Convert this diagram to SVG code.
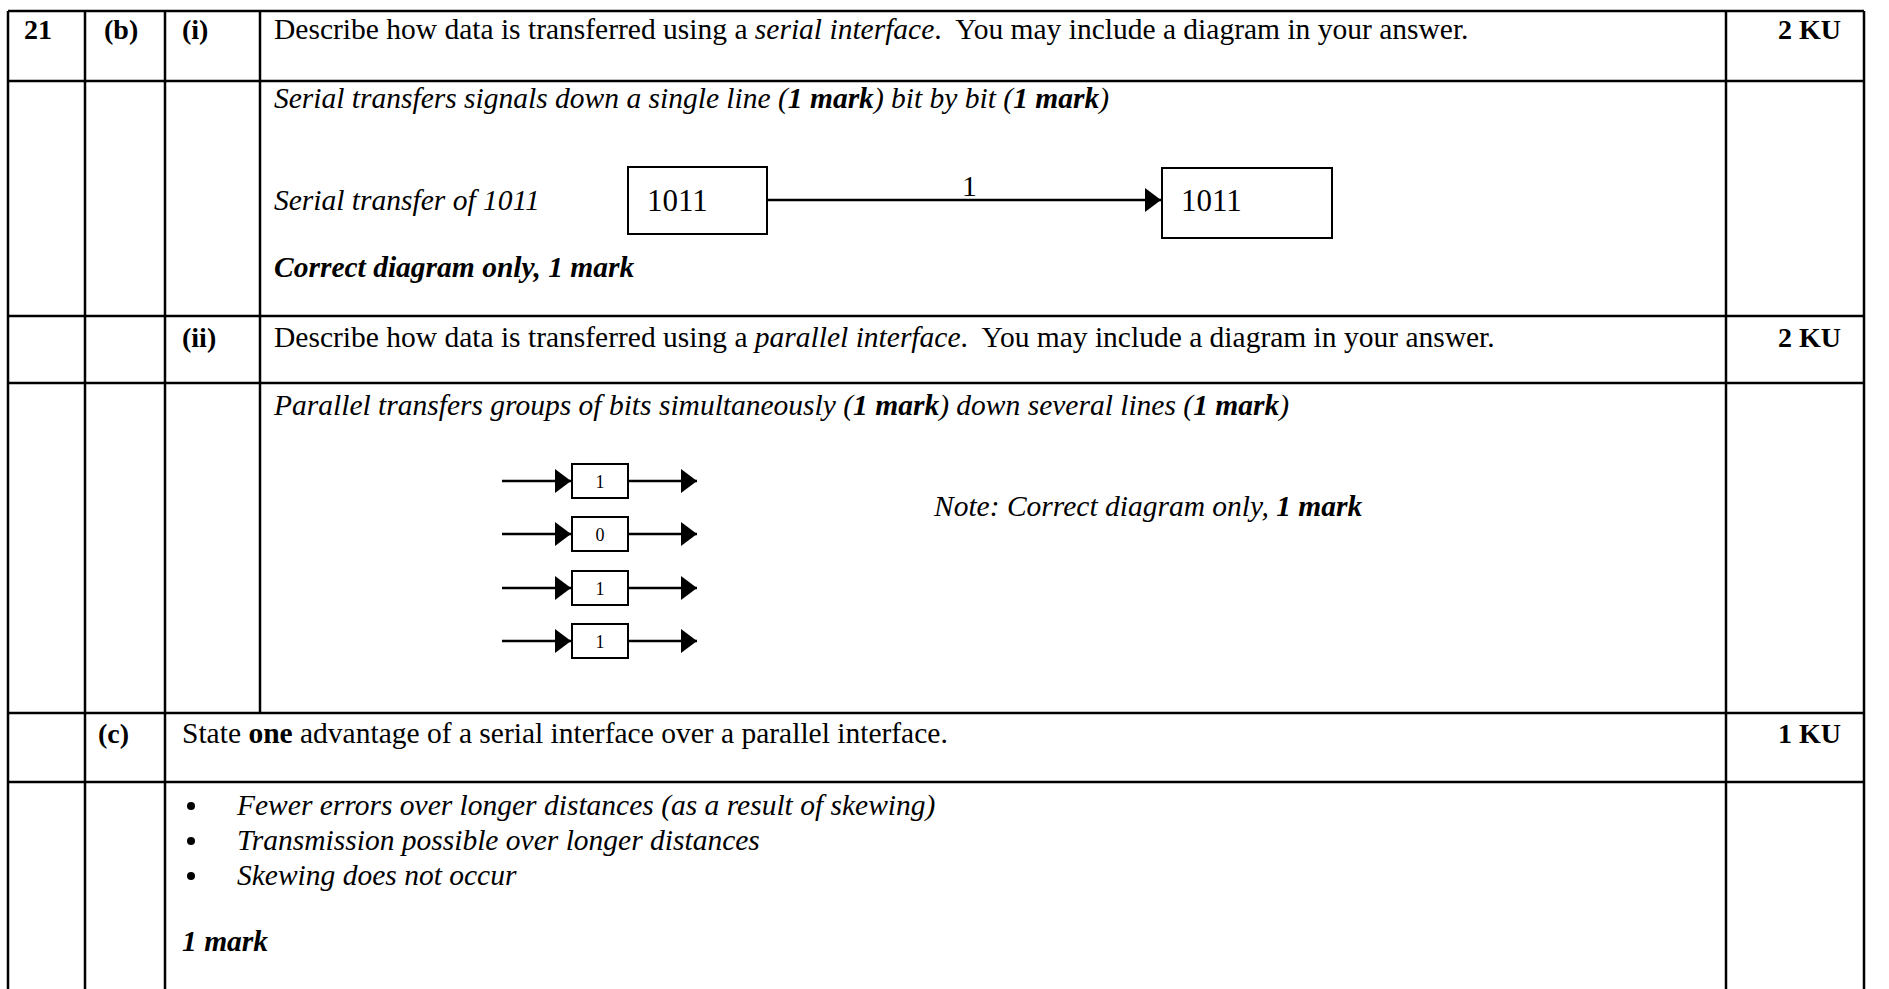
<svg xmlns="http://www.w3.org/2000/svg" width="1889" height="989" viewBox="0 0 1889 989">
  <style>
    text { font-family: "Liberation Serif", "Times New Roman", serif; fill: #000; }
    .t { font-size: 29.5px; }
    .lab { font-size: 28px; font-weight: bold; }
    .b { font-weight: bold; }
    .i { font-style: italic; }
    .grid line { stroke: #000; stroke-width: 2.5; }
    .box { fill: #fff; stroke: #000; stroke-width: 2; }
    .wire { stroke: #000; stroke-width: 2.5; fill: none; }
    .dig { font-size: 18px; text-anchor: middle; }
    .val { font-size: 31px; }
  </style>
  <defs>
    <marker id="head" viewBox="0 0 16 24" refX="16" refY="12" markerWidth="16" markerHeight="24" markerUnits="userSpaceOnUse" orient="auto">
      <path d="M0,0 L16,12 L0,24 Z" fill="#000"/>
    </marker>
  </defs>
  <rect x="0" y="0" width="1889" height="989" fill="#fff"/>

  <!-- table rules -->
  <g class="grid" id="grid">
    <line x1="8" y1="11" x2="1864" y2="11"/>
    <line x1="8" y1="81" x2="1864" y2="81"/>
    <line x1="8" y1="316" x2="1864" y2="316"/>
    <line x1="8" y1="383" x2="1864" y2="383"/>
    <line x1="8" y1="713" x2="1864" y2="713"/>
    <line x1="8" y1="782" x2="1864" y2="782"/>
    <line x1="8" y1="11" x2="8" y2="989"/>
    <line x1="85" y1="11" x2="85" y2="989"/>
    <line x1="165" y1="11" x2="165" y2="989"/>
    <line x1="260" y1="11" x2="260" y2="713"/>
    <line x1="1726" y1="11" x2="1726" y2="989"/>
    <line x1="1864" y1="11" x2="1864" y2="989"/>
  </g>

  <!-- row labels -->
  <g id="labels" class="lab">
    <text x="24" y="39">21</text>
    <text x="104" y="39">(b)</text>
    <text x="182" y="39">(i)</text>
    <text x="182" y="347">(ii)</text>
    <text x="98" y="743">(c)</text>
    <text x="1778" y="39">2 KU</text>
    <text x="1778" y="347">2 KU</text>
    <text x="1778" y="743">1 KU</text>
  </g>

  <!-- part (b)(i) -->
  <g id="q-serial">
    <text class="t" x="274" y="39" xml:space="preserve">Describe how data is transferred using a <tspan class="i">serial interface</tspan>.  You may include a diagram in your answer.</text>
  </g>
  <g id="a-serial" class="t i">
    <text x="274" y="108">Serial transfers signals down a single line (<tspan class="b">1 mark</tspan>) bit by bit (<tspan class="b">1 mark</tspan>)</text>
    <text x="274" y="210">Serial transfer of 1011</text>
    <text class="b" x="274" y="277">Correct diagram only, 1 mark</text>
  </g>
  <g id="sender">
    <rect class="box" x="628" y="167" width="139" height="67"/>
    <text class="val" x="647" y="211">1011</text>
  </g>
  <g id="receiver">
    <rect class="box" x="1162" y="168" width="170" height="70"/>
    <text class="val" x="1181" y="211">1011</text>
  </g>

  <!-- part (b)(ii) -->
  <g id="q-parallel">
    <text class="t" x="274" y="347" xml:space="preserve">Describe how data is transferred using a <tspan class="i">parallel interface</tspan>.  You may include a diagram in your answer.</text>
  </g>
  <g id="a-parallel" class="t i">
    <text x="274" y="415">Parallel transfers groups of bits simultaneously (<tspan class="b">1 mark</tspan>) down several lines (<tspan class="b">1 mark</tspan>)</text>
    <text x="934" y="516">Note: Correct diagram only, <tspan class="b">1 mark</tspan></text>
  </g>
  <g id="bit0">
    <rect class="box" x="572" y="464" width="56" height="34"/>
    <text class="dig" x="600" y="488">1</text>
  </g>
  <g id="bit1">
    <rect class="box" x="572" y="517" width="56" height="34"/>
    <text class="dig" x="600" y="541">0</text>
  </g>
  <g id="bit2">
    <rect class="box" x="572" y="571" width="56" height="34"/>
    <text class="dig" x="600" y="595">1</text>
  </g>
  <g id="bit3">
    <rect class="box" x="572" y="624" width="56" height="34"/>
    <text class="dig" x="600" y="648">1</text>
  </g>

  <!-- connectors -->
  <g id="connectors" class="wire">
    <line x1="767" y1="200" x2="1161" y2="200" marker-end="url(#head)"/>
    <line x1="502" y1="481" x2="571" y2="481" marker-end="url(#head)"/>
    <line x1="628" y1="481" x2="697" y2="481" marker-end="url(#head)"/>
    <line x1="502" y1="534" x2="571" y2="534" marker-end="url(#head)"/>
    <line x1="628" y1="534" x2="697" y2="534" marker-end="url(#head)"/>
    <line x1="502" y1="588" x2="571" y2="588" marker-end="url(#head)"/>
    <line x1="628" y1="588" x2="697" y2="588" marker-end="url(#head)"/>
    <line x1="502" y1="641" x2="571" y2="641" marker-end="url(#head)"/>
    <line x1="628" y1="641" x2="697" y2="641" marker-end="url(#head)"/>
  </g>
  <text class="t" x="962" y="196">1</text>

  <!-- part (c) -->
  <g id="q-c">
    <text class="t" x="182" y="743">State <tspan class="b">one</tspan> advantage of a serial interface over a parallel interface.</text>
  </g>
  <g id="a-c" class="t">
    <circle cx="191" cy="806" r="4"/>
    <circle cx="191" cy="841" r="4"/>
    <circle cx="191" cy="876" r="4"/>
    <text class="i" x="237" y="815">Fewer errors over longer distances (as a result of skewing)</text>
    <text class="i" x="237" y="850">Transmission possible over longer distances</text>
    <text class="i" x="237" y="885">Skewing does not occur</text>
    <text class="i b" x="182" y="951">1 mark</text>
  </g>
</svg>
